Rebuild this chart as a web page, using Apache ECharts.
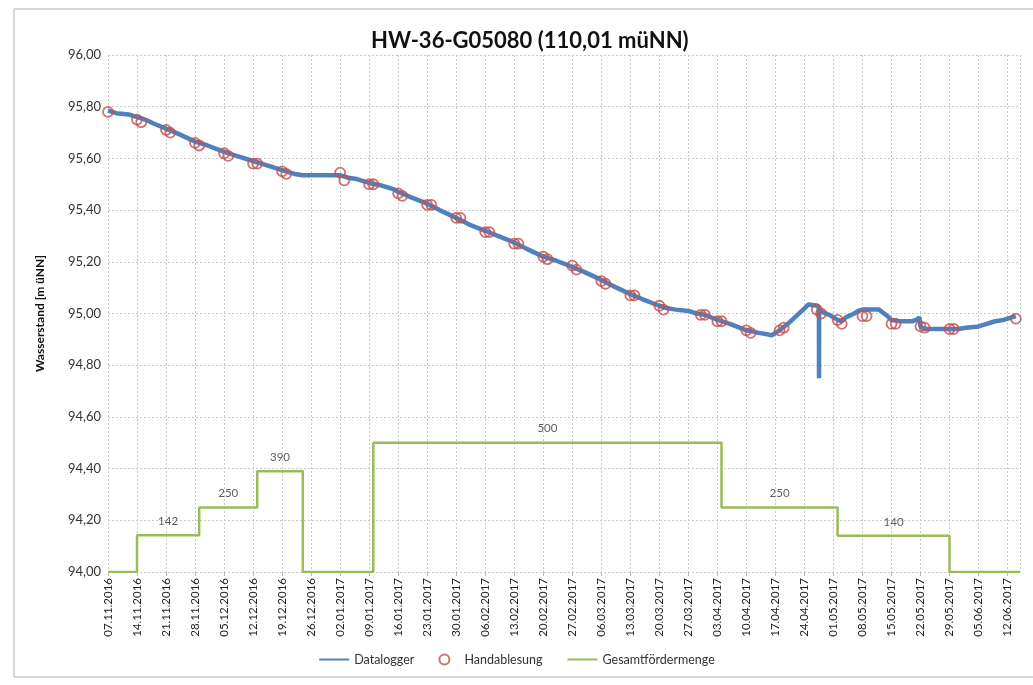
<!DOCTYPE html>
<html><head><meta charset="utf-8">
<script src="https://cdn.jsdelivr.net/npm/echarts@6/dist/echarts.min.js"></script>
<style>html,body{margin:0;padding:0;background:#fff}#c{width:1033px;height:685px}</style>
</head><body><div id="c"></div>
<script>
const titleText = 'HW-36-G05080 (110,01 müNN)';
const yAxisName = 'Wasserstand [m üNN]';
const seriesNames = ['Datalogger', 'Handablesung', 'Gesamtfördermenge'];
const axisStart = '07.11.2016';
const axisEnd = '15.06.2017';

const loggerDates = ['07.11.2016','09.11.2016','12.11.2016','14.11.2016','16.11.2016','18.11.2016','21.11.2016','24.11.2016','28.11.2016','01.12.2016','05.12.2016','08.12.2016','12.12.2016','15.12.2016','19.12.2016','22.12.2016','24.12.2016','28.12.2016','02.01.2017','04.01.2017','06.01.2017','09.01.2017','12.01.2017','15.01.2017','16.01.2017','19.01.2017','23.01.2017','26.01.2017','30.01.2017','02.02.2017','06.02.2017','09.02.2017','13.02.2017','16.02.2017','20.02.2017','23.02.2017','27.02.2017','02.03.2017','06.03.2017','09.03.2017','13.03.2017','16.03.2017','20.03.2017','22.03.2017','24.03.2017','27.03.2017','29.03.2017','31.03.2017','03.04.2017','06.04.2017','10.04.2017','13.04.2017','15.04.2017','16.04.2017','18.04.2017','20.04.2017','22.04.2017','24.04.2017','25.04.2017','27.04.2017 06:00','27.04.2017 12:00','27.04.2017 12:30','27.04.2017 13:00','28.04.2017','30.04.2017','02.05.2017','03.05.2017','04.05.2017','06.05.2017','07.05.2017','08.05.2017','12.05.2017','14.05.2017','15.05.2017','17.05.2017','20.05.2017','21.05.2017','21.05.2017 18:00','22.05.2017','23.05.2017','26.05.2017','31.05.2017','02.06.2017','05.06.2017','07.06.2017','09.06.2017','11.06.2017','13.06.2017','14.06.2017'];
const loggerValues = [95.785,95.775,95.77,95.76,95.75,95.735,95.715,95.695,95.665,95.65,95.625,95.61,95.59,95.575,95.555,95.54,95.535,95.535,95.535,95.525,95.52,95.505,95.495,95.48,95.47,95.45,95.425,95.40,95.37,95.345,95.32,95.30,95.275,95.25,95.22,95.205,95.18,95.16,95.13,95.105,95.075,95.055,95.03,95.02,95.015,95.01,95.0,94.995,94.975,94.96,94.935,94.925,94.92,94.915,94.935,94.96,94.99,95.02,95.035,95.03,95.015,94.75,95.01,95.005,94.995,94.975,94.97,94.985,95.0,95.01,95.015,95.015,94.99,94.975,94.97,94.97,94.975,94.985,94.95,94.94,94.94,94.94,94.945,94.95,94.96,94.97,94.975,94.985,94.99];

const handDates = ['07.11.2016','14.11.2016','15.11.2016','21.11.2016','22.11.2016','28.11.2016','29.11.2016','05.12.2016','06.12.2016','12.12.2016','13.12.2016','19.12.2016','20.12.2016','02.01.2017','03.01.2017','09.01.2017','10.01.2017','16.01.2017','17.01.2017','23.01.2017','24.01.2017','30.01.2017','31.01.2017','06.02.2017','07.02.2017','13.02.2017','14.02.2017','20.02.2017','21.02.2017','27.02.2017','28.02.2017','06.03.2017','07.03.2017','13.03.2017','14.03.2017','20.03.2017','21.03.2017','30.03.2017','31.03.2017','03.04.2017','04.04.2017','10.04.2017','11.04.2017','18.04.2017','19.04.2017','27.04.2017','28.04.2017','02.05.2017','03.05.2017','08.05.2017','09.05.2017','15.05.2017','16.05.2017','22.05.2017','23.05.2017','29.05.2017','30.05.2017','14.06.2017'];
const handValues = [95.78,95.75,95.74,95.71,95.70,95.66,95.65,95.62,95.61,95.58,95.58,95.55,95.54,95.545,95.515,95.50,95.50,95.465,95.455,95.42,95.42,95.37,95.37,95.315,95.315,95.27,95.27,95.22,95.21,95.185,95.17,95.125,95.115,95.07,95.07,95.03,95.015,94.995,94.995,94.97,94.97,94.935,94.925,94.935,94.945,95.015,95.0,94.975,94.96,94.99,94.99,94.96,94.96,94.95,94.945,94.94,94.94,94.98];

const pumpDates = ['07.11.2016','14.11.2016','29.11.2016','13.12.2016','24.12.2016','10.01.2017','04.04.2017','02.05.2017','29.05.2017','15.06.2017'];
const pumpValues = [0,142,250,390,0,500,250,140,0,0];

const DAY = 86400000;
function toMs(s){
  const parts = s.split(' ');
  const [dd,mm,yy] = parts[0].split('.').map(Number);
  let ms = Date.UTC(yy, mm-1, dd);
  if (parts[1]) { const [h,mi] = parts[1].split(':').map(Number); ms += (h*60+mi)*60000; }
  return ms;
}
const base = toMs(axisStart);
const dayOf = s => (toMs(s) - base) / DAY;
function fmtDate(v){
  const d = new Date(base + Math.round(v) * DAY);
  const p = n => String(n).padStart(2,'0');
  return p(d.getUTCDate()) + '.' + p(d.getUTCMonth()+1) + '.' + d.getUTCFullYear();
}
const fmtNum = v => v.toFixed(2).replace('.', ',');

const loggerData = loggerDates.map((d,i) => [dayOf(d), loggerValues[i]]);
const handData = handDates.map((d,i) => [dayOf(d), handValues[i]]);
const pumpData = pumpDates.map((d,i) => [dayOf(d), pumpValues[i]]);
const pumpLabels = [];
for (let i = 0; i < pumpDates.length - 1; i++) {
  if (pumpValues[i] > 0) pumpLabels.push([(dayOf(pumpDates[i]) + dayOf(pumpDates[i+1])) / 2, pumpValues[i]]);
}

const FONT = 'Lato, "Open Sans", sans-serif';
const chart = echarts.init(document.getElementById('c'), null, {renderer: 'canvas'});
chart.setOption({
  backgroundColor: '#fff',
  animation: false,
  textStyle: {fontFamily: FONT},
  graphic: [{type: 'rect', shape: {x: 14, y: 9, width: 1030, height: 668}, style: {fill: 'none', stroke: '#b0b0b0', lineWidth: 1}, silent: true, z: -1}],
  title: {text: titleText, left: 366, top: 25, textStyle: {fontFamily: FONT, fontSize: 22, fontWeight: 'bold', color: '#111'}},
  grid: {left: 108, right: 13, top: 55, bottom: 113},
  legend: {
    bottom: 14, left: 'center', itemWidth: 30, itemHeight: 10, itemGap: 24,
    data: [
      {name: seriesNames[0], itemStyle: {opacity: 0}},
      {name: seriesNames[1]},
      {name: seriesNames[2], itemStyle: {opacity: 0}}
    ],
    textStyle: {fontFamily: FONT, fontSize: 12.5, color: '#333'}
  },
  xAxis: {
    type: 'value', min: 0, max: dayOf(axisEnd), interval: 7,
    axisLine: {show: false}, axisTick: {show: true, length: 4, lineStyle: {color: '#bbb'}},
    axisLabel: {rotate: 90, margin: 6, fontSize: 11.5, color: '#222', showMaxLabel: false, formatter: v => fmtDate(v)},
    splitLine: {show: true, lineStyle: {color: '#c8c8c8', type: [2, 2], width: 1}}
  },
  yAxis: [{
    type: 'value', min: 94, max: 96, interval: 0.2,
    name: yAxisName, nameLocation: 'middle', nameGap: 62, nameRotate: 90,
    nameTextStyle: {fontFamily: FONT, fontSize: 12, fontWeight: 'bold', color: '#111'},
    axisLine: {show: false}, axisTick: {show: false},
    axisLabel: {fontSize: 13, color: '#333', margin: 7, formatter: v => fmtNum(v)},
    splitLine: {show: true, lineStyle: {color: '#c8c8c8', type: [2, 2], width: 1}}
  }, {
    type: 'value', min: 0, max: 2000, show: false, splitLine: {show: false}
  }],
  series: [{
    name: seriesNames[2], type: 'line', yAxisIndex: 1, step: 'end', data: pumpData,
    symbol: 'none', lineStyle: {color: '#9BBB59', width: 2.5}, itemStyle: {color: '#9BBB59'}, z: 2
  }, {
    name: 'labels', type: 'scatter', yAxisIndex: 1, data: pumpLabels, symbolSize: 0,
    label: {show: true, position: 'top', distance: 8, fontSize: 11.5, color: '#333', fontFamily: FONT, formatter: p => String(p.value[1])},
    silent: true, z: 3
  }, {
    name: seriesNames[0], type: 'line', data: loggerData, symbol: 'none',
    lineStyle: {color: '#4F81BD', width: 4.5}, itemStyle: {color: '#4F81BD'}, z: 4
  }, {
    name: seriesNames[1], type: 'scatter', data: handData, symbol: 'circle', symbolSize: 10,
    itemStyle: {color: 'rgba(255,255,255,0)', borderColor: '#C0504D', borderWidth: 1.8}, z: 5
  }]
});
</script></body></html>
